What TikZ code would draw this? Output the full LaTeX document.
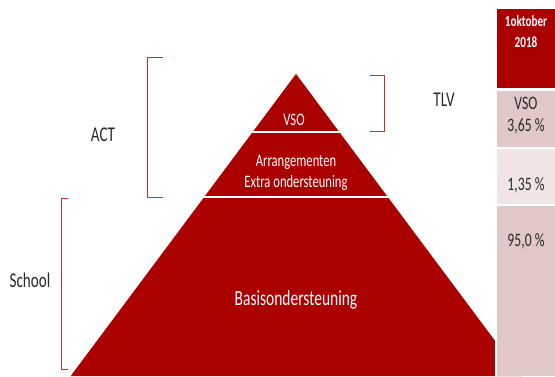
\documentclass[tikz,border=0pt]{standalone}
\usepackage{fontspec}
\setmainfont{Carlito}[FakeStretch=0.72]
\begin{document}
\definecolor{pyr}{RGB}{170,0,0}
\definecolor{brk}{RGB}{200,45,45}
\definecolor{cellA}{RGB}{224,200,200}
\definecolor{cellB}{RGB}{240,228,228}
\definecolor{txt}{RGB}{40,40,40}
\begin{tikzpicture}[x=1pt,y=-1pt,
  lbl/.style={font=\fontsize{21}{22}\selectfont, text=txt},
  ptxt/.style={font=\fontsize{17.5}{21}\selectfont, text=white, align=center},
  ctxt/.style={font=\fontsize{19}{22}\selectfont, text=txt, align=center},
  bracket/.style={draw=brk, line width=1pt},
  sep/.style={draw=white, line width=2pt}]
\useasboundingbox (0,0) rectangle (555,376);
% pyramid
\coordinate (apex) at (296,73);
\coordinate (bl) at (70,376);
\coordinate (br) at (522,376);
\fill[pyr] (apex) -- (bl) -- (br) -- cycle;
\draw[white, line width=0.8pt] (bl) -- (apex) -- (br);
\coordinate (s1l) at (251,132); \coordinate (s1r) at (341,132);
\coordinate (s2l) at (202,197); \coordinate (s2r) at (390,197);
\draw[sep] (s1l) -- (s1r);
\draw[sep] (s2l) -- (s2r);
\node[ptxt] (vso) at (294,120) {VSO};
\node[ptxt] (arr) at (296,173) {Arrangementen\\Extra ondersteuning};
\node[ptxt, font=\fontsize{21.5}{24}\selectfont] (basis) at (296,300) {Basisondersteuning};
% table
\fill[white] (495,0) rectangle (555,376);
\fill[pyr] (497,9) rectangle (555,88);
\node[text=white, font=\bfseries\fontsize{15.5}{21}\selectfont, align=center] (hdr) at (526,32) {1oktober\\2018};
\fill[cellA] (497,91) rectangle (555,147);
\fill[cellB] (497,149) rectangle (555,204);
\fill[cellA] (497,206) rectangle (555,376);
\node[ctxt] (c1) at (526,116) {VSO\\3,65 \%};
\node[ctxt] (c2) at (526,185) {1,35 \%};
\node[ctxt] (c3) at (526,241) {95,0 \%};
% brackets
\draw[bracket] (163,57) -- (147,57) -- (147,197) -- (163,197);
\node[lbl] (act) at (103,135) {ACT};
\draw[bracket] (68,198) -- (61,198) -- (61,369) -- (68,369);
\node[lbl] (school) at (30,280) {School};
\draw[bracket] (370,75) -- (384,75) -- (384,131) -- (370,131);
\node[lbl] (tlv) at (444,100) {TLV};
\end{tikzpicture}
\end{document}
